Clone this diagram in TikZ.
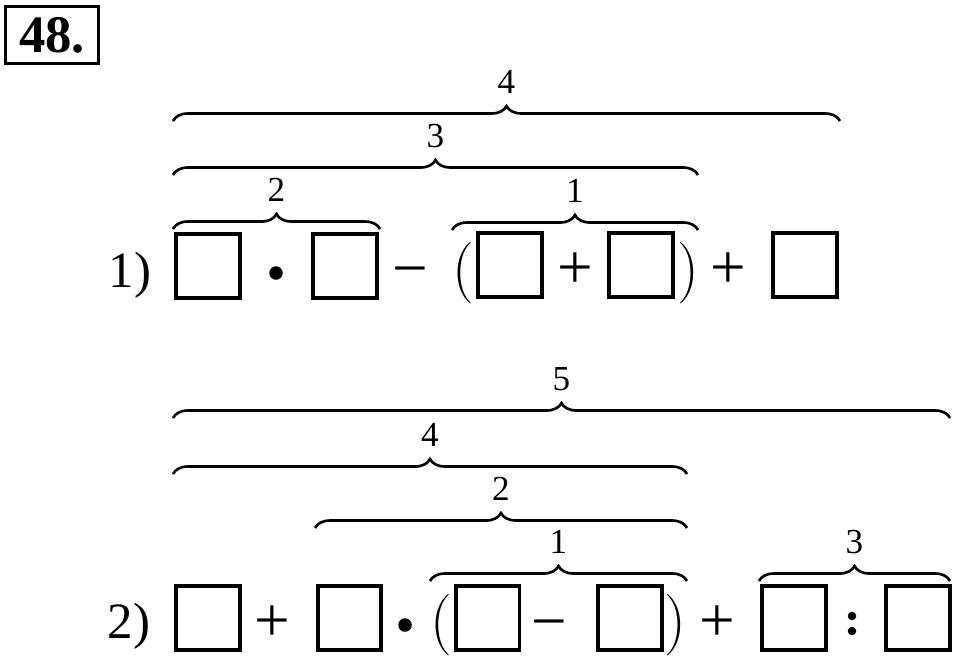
\documentclass[tikz,border=0pt]{standalone}
\usepackage{fontspec}
\setmainfont{Liberation Serif}
\newfontfamily\lmparen{Latin Modern Roman}
\usetikzlibrary{positioning,decorations.pathreplacing}

\begin{document}
\begin{tikzpicture}[x=0.02cm, y=-0.02cm,
                    squarebox/.style={rectangle, draw=black, line width=0.08cm, minimum width=1.28cm, minimum height=1.28cm, outer sep=0pt},
                    numsign/.style={anchor=base, inner sep=0pt, font=\fontsize{29}{29}\selectfont},
                    opsign/.style={anchor=base, inner sep=0pt, font=\fontsize{36}{36}\selectfont},
                    paren/.style={anchor=base, inner sep=0pt, font=\lmparen\fontsize{35}{35}\selectfont},
                    blob/.style={circle, fill=black, minimum size=0.27cm, inner sep=0pt},
                    smallblob/.style={circle, fill=black, minimum size=0.17cm, inner sep=0pt},
                    brc/.style={decorate, decoration={brace, amplitude=0.3cm}, line width=1.5pt},
                    brlabel/.style={midway, above=0.52cm, inner sep=0pt, font=\fontsize{20}{20}\selectfont}
                ]
                    \useasboundingbox (0,0) rectangle (960,660);
                    \node[draw, line width=0.06cm, minimum width=1.86cm, minimum height=1.16cm, font=\bfseries\fontsize{30}{30}\selectfont] (title) at (52,35) {48.};

                    % first expression
                    \node[numsign] (numa) at (130,287) {1)};
                    \node[squarebox] (a1) at (208,265.5) {};
                    \node[blob] (dota) at (276,273) {};
                    \node[squarebox] (a2) at (345,265.5) {};
                    \node[opsign] (minusa) at (410,289) {−};
                    \node[paren] (lpa) at (463,288) {(};
                    \node[squarebox] (a3) at (510,265) {};
                    \node[opsign] (plusa) at (575,288) {+};
                    \node[squarebox] (a4) at (641,265) {};
                    \node[paren] (rpa) at (688,288) {)};
                    \node[opsign] (plusb) at (728,288) {+};
                    \node[squarebox] (a5) at (805,265) {};

                    \coordinate (a2l) at (173,229);
                    \coordinate (a2r) at (380,229);
                    \coordinate (a1l) at (452,230);
                    \coordinate (a1r) at (698,230);
                    \coordinate (a3l) at (173,175);
                    \coordinate (a3r) at (698,175);
                    \coordinate (a4l) at (173,121);
                    \coordinate (a4r) at (840,121);
                    \draw[brc] (a2l) -- (a2r) node[brlabel] {2};
                    \draw[brc] (a1l) -- (a1r) node[brlabel] {1};
                    \draw[brc] (a3l) -- (a3r) node[brlabel] {3};
                    \draw[brc] (a4l) -- (a4r) node[brlabel] {4};

                    % second expression
                    \node[numsign] (numb) at (129,638) {2)};
                    \node[squarebox] (b1) at (208,617.5) {};
                    \node[opsign] (plusc) at (272,641) {+};
                    \node[squarebox] (b2) at (349.5,617.5) {};
                    \node[blob] (dotb) at (405,625) {};
                    \node[paren] (lpb) at (441,640) {(};
                    \node[squarebox] (b3) at (487.5,617.5) {};
                    \node[opsign] (minusb) at (549,642) {−};
                    \node[squarebox] (b4) at (629.5,618) {};
                    \node[paren] (rpb) at (675,640) {)};
                    \node[opsign] (plusd) at (717,641) {+};
                    \node[squarebox] (b5) at (793.5,618) {};
                    \node[smallblob] (colup) at (852,616) {};
                    \node[smallblob] (coldown) at (852,631) {};
                    \node[squarebox] (b6) at (917.5,618) {};

                    \coordinate (b1l) at (430,581);
                    \coordinate (b1r) at (687,581);
                    \coordinate (b3l) at (759,581);
                    \coordinate (b3r) at (950,581);
                    \coordinate (b2l) at (315,528);
                    \coordinate (b2r) at (687,528);
                    \coordinate (b4l) at (173,474);
                    \coordinate (b4r) at (687,474);
                    \coordinate (b5l) at (173,418);
                    \coordinate (b5r) at (950,418);
                    \draw[brc] (b1l) -- (b1r) node[brlabel] {1};
                    \draw[brc] (b3l) -- (b3r) node[brlabel] {3};
                    \draw[brc] (b2l) -- (b2r) node[brlabel] {2};
                    \draw[brc] (b4l) -- (b4r) node[brlabel] {4};
                    \draw[brc] (b5l) -- (b5r) node[brlabel] {5};
                \end{tikzpicture}
\end{document}
